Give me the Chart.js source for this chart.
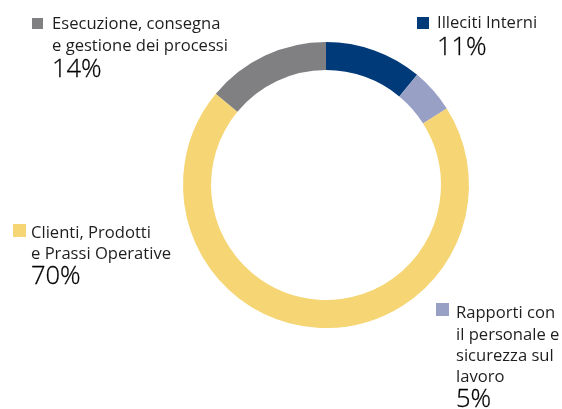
<!DOCTYPE html>
<html>
<head>
<meta charset="utf-8">
<script src="https://cdn.jsdelivr.net/npm/chart.js@4"></script>
<style>
  html, body { margin: 0; padding: 0; background: #fff; }
  #wrap { position: relative; width: 562px; height: 409px; overflow: hidden; font-family: "Open Sans", "Noto Sans", sans-serif; color: #1e1e1e; }
  #c { position: absolute; left: 0; top: 0; }
  .sq { position: absolute; }
  .lbl { position: absolute; font-size: 16.6px; white-space: nowrap; }
  .pct { position: absolute; font-size: 25.5px; line-height: 28px; font-weight: 300; color: #000; white-space: nowrap; -webkit-text-stroke: 0.3px #000; }
</style>
</head>
<body>
<div id="wrap">
  <canvas id="c" width="562" height="409"></canvas>
</div>
<script>
const categories = [
  ["Illeciti Interni"],
  ["Rapporti con", "il personale e", "sicurezza sul", "lavoro"],
  ["Clienti, Prodotti", "e Prassi Operative"],
  ["Esecuzione, consegna", "e gestione dei processi"]
];
const values = [11, 5, 70, 14];
const colors = ["#003a78", "#98a0c6", "#f5d574", "#808083"];

// label placement (layout only)
const labelPos = [
  { sq: [417, 17, 12], x: 437, y: 10.7, lh: 22.5, py: 31.1 },
  { sq: [436, 303, 13], x: 456, y: 301.4, lh: 21.3, py: 382.8 },
  { sq: [13, 224, 13], x: 31, y: 220.7, lh: 21.7, py: 260.1 },
  { sq: [32, 18, 11], x: 52, y: 11.7, lh: 22.5, py: 53.4 }
];

const wrap = document.getElementById('wrap');
categories.forEach((lines, i) => {
  const p = labelPos[i];
  const sq = document.createElement('div');
  sq.className = 'sq';
  sq.style.left = p.sq[0] + 'px'; sq.style.top = p.sq[1] + 'px';
  sq.style.width = p.sq[2] + 'px'; sq.style.height = p.sq[2] + 'px';
  sq.style.background = colors[i];
  wrap.appendChild(sq);
  const t = document.createElement('div');
  t.className = 'lbl';
  t.style.left = p.x + 'px'; t.style.top = p.y + 'px';
  t.style.lineHeight = p.lh + 'px';
  t.innerHTML = lines.join('<br>');
  wrap.appendChild(t);
  const pc = document.createElement('div');
  pc.className = 'pct';
  pc.style.left = p.x + 'px'; pc.style.top = p.py + 'px';
  pc.textContent = values[i] + '%';
  wrap.appendChild(pc);
});

new Chart(document.getElementById('c'), {
  type: 'doughnut',
  data: {
    labels: categories.map(l => l.join(' ')),
    datasets: [{
      data: values,
      backgroundColor: colors,
      borderWidth: 0,
      hoverOffset: 0
    }]
  },
  options: {
    responsive: false,
    animation: false,
    cutout: '80.4%',
    layout: { padding: { left: 183, right: 93, top: 42, bottom: 81 } },
    plugins: { legend: { display: false }, tooltip: { enabled: false } }
  }
});
</script>
</body>
</html>
